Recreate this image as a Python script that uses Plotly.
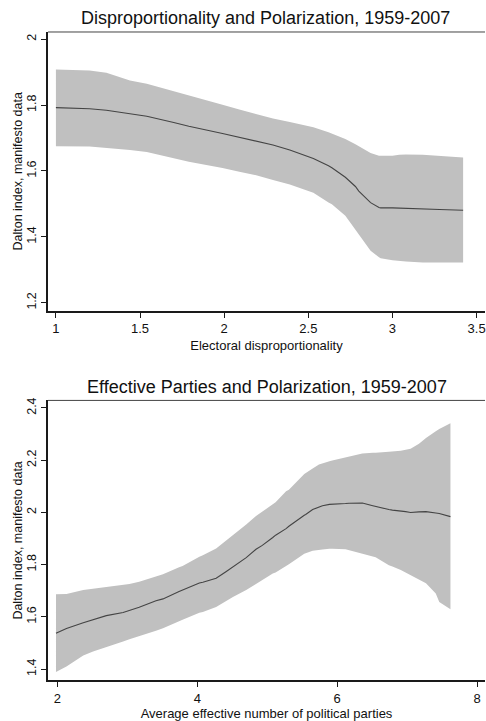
import plotly.graph_objects as go

# Panel 1: electoral disproportionality
disp_x = [1.00, 1.20, 1.30, 1.44, 1.54, 1.70, 1.79, 1.99, 2.09, 2.19, 2.29, 2.39, 2.49,
          2.53, 2.62, 2.64, 2.72, 2.78, 2.80, 2.87, 2.92, 2.93, 3.00, 3.04, 3.08, 3.18, 3.28, 3.42]
disp_fit = [1.7925, 1.789, 1.7845, 1.774, 1.766, 1.747, 1.736, 1.714, 1.702, 1.691, 1.679, 1.664, 1.646,
            1.638, 1.616, 1.610, 1.581, 1.553, 1.539, 1.504, 1.489, 1.488, 1.488, 1.487, 1.487, 1.485, 1.483, 1.481]
disp_hi = [1.908, 1.905, 1.898, 1.875, 1.865, 1.843, 1.830, 1.801, 1.787, 1.773, 1.759, 1.749, 1.739,
           1.733, 1.718, 1.714, 1.697, 1.681, 1.675, 1.655, 1.646, 1.646, 1.646, 1.649, 1.650, 1.649, 1.645, 1.641]
disp_lo = [1.675, 1.674, 1.670, 1.664, 1.658, 1.639, 1.628, 1.609, 1.598, 1.587, 1.573, 1.559, 1.541,
           1.534, 1.504, 1.499, 1.464, 1.423, 1.409, 1.358, 1.338, 1.335, 1.329, 1.326, 1.325, 1.322, 1.322, 1.322]

# Panel 2: effective number of parties
enp_x = [1.98, 2.13, 2.37, 2.51, 2.70, 2.94, 3.03, 3.17, 3.41, 3.51, 3.74, 3.79, 4.03, 4.08, 4.27, 4.41,
         4.51, 4.70, 4.84, 4.93, 5.08, 5.12, 5.27, 5.31, 5.53, 5.55, 5.65, 5.74, 5.79, 5.89, 5.93, 6.12,
         6.17, 6.36, 6.51, 6.55, 6.74, 6.79, 6.91, 6.98, 7.03, 7.05, 7.17, 7.27, 7.41, 7.46, 7.62]
enp_fit = [1.537, 1.556, 1.578, 1.590, 1.605, 1.617, 1.624, 1.637, 1.662, 1.669, 1.697, 1.703, 1.730, 1.733,
           1.748, 1.773, 1.792, 1.827, 1.859, 1.874, 1.904, 1.913, 1.938, 1.947, 1.989, 1.992, 2.011, 2.022,
           2.026, 2.031, 2.032, 2.034, 2.035, 2.036, 2.026, 2.023, 2.011, 2.009, 2.007, 2.003, 2.001, 2.000,
           2.002, 2.003, 1.998, 1.996, 1.984]
enp_hi = [1.687, 1.688, 1.703, 1.708, 1.714, 1.723, 1.726, 1.735, 1.755, 1.763, 1.790, 1.795, 1.830, 1.836,
          1.862, 1.891, 1.912, 1.954, 1.986, 2.004, 2.031, 2.039, 2.081, 2.087, 2.147, 2.150, 2.168, 2.184,
          2.189, 2.196, 2.199, 2.210, 2.213, 2.226, 2.229, 2.229, 2.232, 2.233, 2.236, 2.240, 2.242, 2.244,
          2.263, 2.285, 2.311, 2.320, 2.342]
enp_lo = [1.389, 1.410, 1.452, 1.468, 1.486, 1.506, 1.514, 1.528, 1.547, 1.557, 1.583, 1.589, 1.616, 1.619,
          1.638, 1.660, 1.676, 1.703, 1.726, 1.742, 1.766, 1.770, 1.795, 1.802, 1.842, 1.844, 1.853, 1.857,
          1.858, 1.861, 1.861, 1.859, 1.858, 1.844, 1.831, 1.828, 1.798, 1.793, 1.780, 1.770, 1.763, 1.760,
          1.744, 1.729, 1.690, 1.657, 1.629]

FONT = "Liberation Sans, Arial, Helvetica, sans-serif"
BAND = "#c0c0c0"
LINE = "#444444"
AXIS = "#1a1a1a"

fig = go.Figure()


def add_panel(x, fit, lo, hi, xa, ya):
    fig.add_trace(go.Scatter(
        x=list(x) + list(x)[::-1], y=list(hi) + list(lo)[::-1],
        fill="toself", fillcolor=BAND, line=dict(width=0), mode="lines",
        hoverinfo="skip", showlegend=False, xaxis=xa, yaxis=ya))
    fig.add_trace(go.Scatter(
        x=x, y=fit, mode="lines", line=dict(color=LINE, width=1.1),
        showlegend=False, xaxis=xa, yaxis=ya))


add_panel(disp_x, disp_fit, disp_lo, disp_hi, "x", "y")
add_panel(enp_x, enp_fit, enp_lo, enp_hi, "x2", "y2")

axis_common = dict(
    showgrid=False, zeroline=False, showline=True, linecolor=AXIS, linewidth=2,
    ticks="outside", ticklen=5, tickwidth=1, tickcolor=AXIS,
    ticklabeloverflow="allow",
)
xtick_font = dict(family=FONT, size=13, color="#111")
ytick_font = dict(family=FONT, size=12.5, color="#111")

fig.update_layout(
    width=486, height=721,
    margin=dict(l=48, r=0, t=0, b=0),
    paper_bgcolor="white", plot_bgcolor="white",
    font=dict(family=FONT, color="#111"),
    xaxis=dict(domain=[0, 1], anchor="y", range=[0.953, 3.55],
               tickvals=[1, 1.5, 2, 2.5, 3, 3.5], ticktext=["1", "1.5", "2", "2.5", "3", "3.5"],
               tickfont=xtick_font,
               title=dict(text="Electoral disproportionality", font=dict(size=13), standoff=6),
               **axis_common),
    yaxis=dict(domain=[0.5691, 0.9594], anchor="x", range=[1.176, 2.022],
               tickvals=[1.2, 1.4, 1.6, 1.8, 2.0], ticktext=["1.2", "1.4", "1.6", "1.8", "2"],
               tickangle=-90, tickfont=ytick_font,
               title=dict(text="Dalton index, manifesto data", font=dict(size=12.5), standoff=0),
               **axis_common),
    xaxis2=dict(domain=[0, 1], anchor="y2", range=[1.866, 8.114],
                tickvals=[2, 4, 6, 8], tickfont=xtick_font,
                title=dict(text="Average effective number of political parties", font=dict(size=13), standoff=6),
                **axis_common),
    yaxis2=dict(domain=[0.0513, 0.4434], anchor="x2", range=[1.357, 2.429],
                tickvals=[1.4, 1.6, 1.8, 2.0, 2.2, 2.4], ticktext=["1.4", "1.6", "1.8", "2", "2.2", "2.4"],
                tickangle=-90, tickfont=ytick_font,
                title=dict(text="Dalton index, manifesto data", font=dict(size=12.5), standoff=0),
                **axis_common),
    annotations=[
        dict(text="Disproportionality and Polarization, 1959-2007", x=266, y=15,
             xref="paper", yref="paper", showarrow=False, font=dict(size=18, family=FONT, color="#111")),
        dict(text="Effective Parties and Polarization, 1959-2007", x=267, y=388,
             xref="paper", yref="paper", showarrow=False, font=dict(size=18, family=FONT, color="#111")),
    ],
    shapes=[
        dict(type="line", xref="x domain", yref="y domain", x0=0, x1=1, y0=1, y1=1,
             line=dict(color="#444", width=1)),
        dict(type="line", xref="x2 domain", yref="y2 domain", x0=0, x1=1, y0=1, y1=1,
             line=dict(color="#444", width=1)),
    ],
)

# titles are placed by pixel position: convert to paper fractions of the plot area
plot_w = 486 - 48
for ann in fig.layout.annotations:
    px, py = ann.x, ann.y
    ann.x = (px - 48) / plot_w
    ann.y = 1 - py / 721
    ann.xanchor = "center"
    ann.yanchor = "middle"

fig.write_html("out.html")
